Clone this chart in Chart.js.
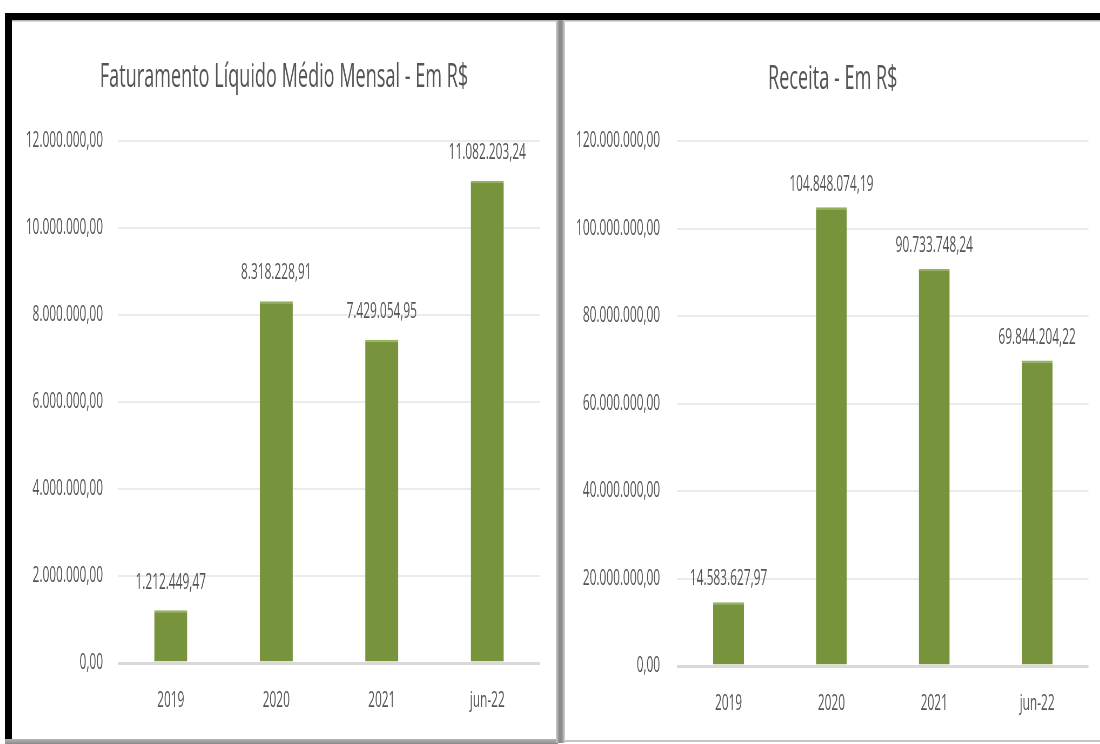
<!DOCTYPE html>
<html><head><meta charset="utf-8">
<script src="https://cdn.jsdelivr.net/npm/chart.js@4.4.0/dist/chart.umd.min.js"></script>
<style>
html,body{margin:0;padding:0;background:#fff;width:1100px;height:744px;overflow:hidden;position:relative}
.abs{position:absolute}
.wrap{position:absolute;transform-origin:0 0}
</style></head><body>
<div class="wrap" id="w1"><canvas id="c1"></canvas></div>
<div class="wrap" id="w2"><canvas id="c2"></canvas></div>

<div class="abs" style="left:5px;top:13px;width:1095px;height:7px;background:#000;z-index:5"></div>
<div class="abs" style="left:12px;top:20px;width:1088px;height:2px;background:linear-gradient(#a0a0a0,#ececec);z-index:5"></div>
<div class="abs" style="left:5px;top:13px;width:7px;height:727px;background:#000;z-index:5"></div>
<div class="abs" style="left:5px;top:739px;width:553px;height:5px;background:linear-gradient(#b5b5b5,#8a8a8a);z-index:5"></div>
<div class="abs" style="left:556px;top:20px;width:9px;height:723px;background:linear-gradient(to right,#d0d0d0,#8c8c8c 35%,#8c8c8c 65%,#d8d8d8);z-index:6"></div>
<div class="abs" style="left:565px;top:740px;width:535px;height:2px;background:#c4c4c4;z-index:5"></div>

<script>
const categories = ['2019', '2020', '2021', 'jun-22'];
const faturamentoValues = [1212449.47, 8318228.91, 7429054.95, 11082203.24];
const receitaValues = [14583627.97, 104848074.19, 90733748.24, 69844204.22];
const faturamentoTicks = [0, 2000000, 4000000, 6000000, 8000000, 10000000, 12000000];
const receitaTicks = [0, 20000000, 40000000, 60000000, 80000000, 100000000, 120000000];

function fmt(v) {
  const neg = v < 0;
  const s = Math.abs(v).toFixed(2);
  const [ip, dp] = s.split('.');
  const ints = ip.replace(/\B(?=(\d{3})+(?!\d))/g, '.');
  return (neg ? '-' : '') + ints + ',' + dp;
}

const S = 0.54;            // horizontal compression of the condensed look
const TXT = '#555555';
const FONT = "'Open Sans', sans-serif";
const FS = 22;
Chart.defaults.font.family = FONT;
Chart.defaults.color = TXT;

const valueLabels = {
  id: 'valueLabels',
  afterDatasetsDraw(chart, args, opts) {
    const ctx = chart.ctx;
    const meta = chart.getDatasetMeta(0);
    ctx.save();
    ctx.font = FS + "px " + FONT;
    ctx.fillStyle = TXT;
    ctx.textAlign = 'center';
    ctx.textBaseline = 'middle';
    meta.data.forEach((bar, i) => {
      ctx.fillText(fmt(chart.data.datasets[0].data[i]), bar.x, bar.y - opts.offset);
    });
    ctx.restore();
  }
};

function makeChart(id, wrapId, title, values, ticks, g) {
  const wrap = document.getElementById(wrapId);
  const W = g.width / S;
  wrap.style.left = g.left + 'px';
  wrap.style.top = g.top + 'px';
  wrap.style.width = W + 'px';
  wrap.style.height = g.height + 'px';
  wrap.style.transform = 'scaleX(' + S + ')';
  const yWidth = (g.plotLeft - g.left) / S;
  const rightW = (g.left + g.width - g.plotRight) / S;
  const plotTop = g.plotTop - g.top;
  const plotBottom = g.plotBottom - g.top;
  const lineH = g.titleSize * 1.2;
  const titleTop = g.titleMid - g.top - lineH / 2;
  const titleBottom = plotTop - titleTop - lineH;
  const xHeight = g.height - plotBottom;
  const xPad = g.xLabelMid - g.plotBottom - FS * 1.2 / 2;
  return new Chart(document.getElementById(id), {
    type: 'bar',
    data: {
      labels: categories,
      datasets: [{
        data: values,
        backgroundColor: '#77933c',
        borderColor: '#94b25c',
        borderWidth: {top: 2, left: 0, right: 0, bottom: 0},
        borderSkipped: 'start',
        categoryPercentage: 1,
        barPercentage: g.barPct
      }]
    },
    options: {
      responsive: true,
      maintainAspectRatio: false,
      animation: false,
      layout: {padding: 0},
      plugins: {
        legend: {display: false},
        tooltip: {enabled: false},
        title: {
          display: true, text: title, color: TXT,
          font: {size: g.titleSize, weight: 'normal', lineHeight: 1.2},
          padding: {top: titleTop, bottom: titleBottom}
        },
        valueLabels: {offset: g.labelOffset}
      },
      scales: {
        x: {
          grid: {display: false, drawTicks: false},
          border: {display: false},
          ticks: {padding: xPad, font: {size: FS}, color: TXT},
          afterFit: a => { a.height = xHeight; }
        },
        y: {
          min: 0, max: ticks[ticks.length - 1],
          afterBuildTicks: a => { a.ticks = ticks.map(v => ({value: v})); },
          afterFit: a => { a.width = yWidth; },
          ticks: {padding: g.yGap / S, font: {size: FS}, color: TXT, callback: v => fmt(v)},
          grid: {
            drawTicks: false,
            color: c => (c.tick && c.tick.value === 0) ? '#d9d9d9' : '#ebebeb',
            lineWidth: c => (c.tick && c.tick.value === 0) ? 3 : 2
          },
          border: {display: false}
        },
        yr: {
          position: 'right',
          display: true,
          grid: {display: false, drawTicks: false},
          border: {display: false},
          ticks: {display: false},
          afterFit: a => { a.width = rightW; }
        }
      }
    },
    plugins: [valueLabels]
  });
}

makeChart('c1', 'w1', 'Faturamento Líquido Médio Mensal - Em R$', faturamentoValues, faturamentoTicks, {
  left: 12, top: 20, width: 544, height: 719,
  plotLeft: 118, plotRight: 540, plotTop: 141, plotBottom: 663,
  titleSize: 33.5, titleMid: 77, xLabelMid: 701, yGap: 15,
  barPct: 0.313, labelOffset: 28
});
makeChart('c2', 'w2', 'Receita - Em R$', receitaValues, receitaTicks, {
  left: 565, top: 20, width: 535, height: 720,
  plotLeft: 677, plotRight: 1088, plotTop: 141, plotBottom: 666,
  titleSize: 33.5, titleMid: 79, xLabelMid: 704, yGap: 17,
  barPct: 0.30, labelOffset: 23
});
</script>
</body></html>
